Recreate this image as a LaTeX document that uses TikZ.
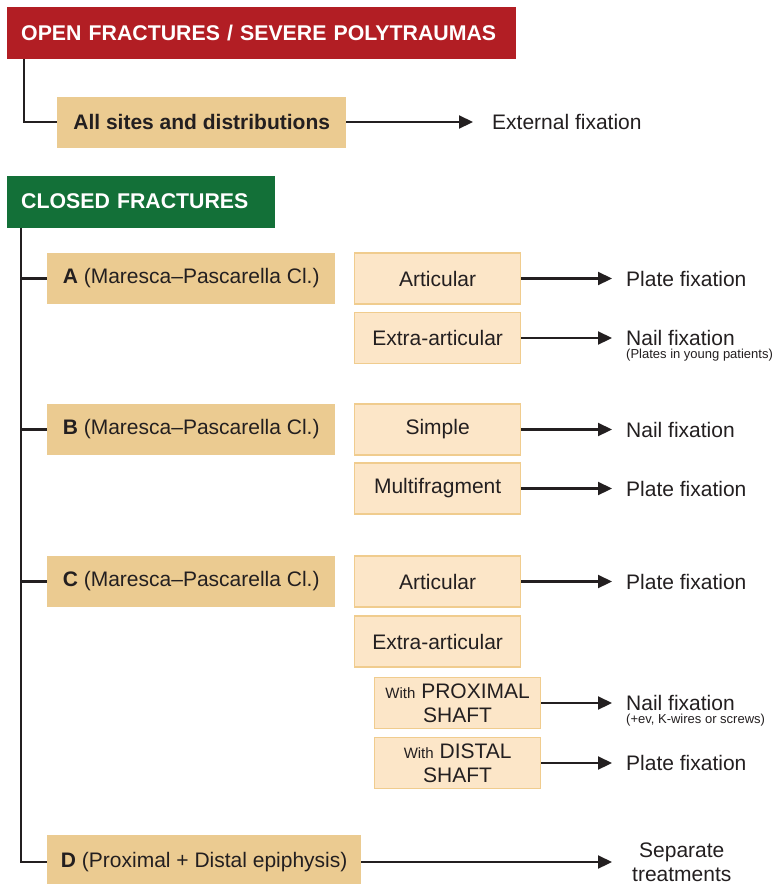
\documentclass[tikz,border=0pt]{standalone}
\usepackage{fontspec}
\setmainfont{Liberation Sans}
\usetikzlibrary{arrows.meta}
\definecolor{hdred}{HTML}{B21E24}
\definecolor{hdgreen}{HTML}{137038}
\definecolor{tanc}{HTML}{EBCB91}
\definecolor{subfill}{HTML}{FCE6C8}
\definecolor{subdraw}{HTML}{F0CC8E}
\definecolor{ink}{HTML}{231F20}
\begin{document}
\begin{tikzpicture}[x=1pt,y=-1pt,
  hdr/.style={text=white, font=\fontsize{21.3}{25}\selectfont\bfseries, anchor=west, inner xsep=14pt, minimum height=52pt, align=left},
  catbox/.style={fill=tanc, text=ink, font=\fontsize{21}{25}\selectfont, minimum height=51pt, anchor=west},
  subbox/.style={fill=subfill, draw=subdraw, line width=1.3pt, minimum width=166pt, minimum height=51pt, text=ink, font=\fontsize{21}{24}\selectfont, anchor=west, align=center, inner sep=1pt},
  res/.style={anchor=west, inner sep=0pt, text=ink, font=\fontsize{21}{25}\selectfont},
  note/.style={anchor=north west, inner sep=0pt, text=ink, font=\fontsize{13}{14}\selectfont},
  arr/.style={draw=ink, line width=2.2pt, -{Triangle[length=14pt,width=13pt]}},
  link/.style={draw=ink, line width=2.2pt}
]
\useasboundingbox (0,0) rectangle (777,884);
\fill[white] (0,0) rectangle (777,884);

% open fractures
\node[hdr, fill=hdred, text width=481pt] (open) at (7,33) {OPEN FRACTURES / SEVERE POLYTRAUMAS};
\node[catbox, minimum width=289pt, font=\fontsize{21}{25}\selectfont\bfseries] (all) at (57,122) {All sites and distributions};
\node[res] (ext) at (492,122) {External fixation};
\draw[link] ([xshift=17pt]open.south west) |- (all.west);
\draw[arr] (all.east) -- ([xshift=-19pt]ext.west);

% closed fractures
\node[hdr, fill=hdgreen, text width=240pt] (closed) at (7,201.5) {CLOSED FRACTURES};
\coordinate (tr) at ([xshift=14pt]closed.south west);

\node[catbox, minimum width=288pt] (A) at (47,278.5) {\textbf{A} (Maresca–Pascarella Cl.)};
\node[catbox, minimum width=288pt] (B) at (47,429.5) {\textbf{B} (Maresca–Pascarella Cl.)};
\node[catbox, minimum width=288pt] (C) at (47,581.5) {\textbf{C} (Maresca–Pascarella Cl.)};
\node[catbox, minimum width=314pt, minimum height=54pt] (D) at (47,862) {\textbf{D} (Proximal + Distal epiphysis)};

\draw[link] (tr) |- (D.west);
\draw[link] (tr |- A.west) -- (A.west);
\draw[link] (tr |- B.west) -- (B.west);
\draw[link] (tr |- C.west) -- (C.west);

% sub boxes
\node[subbox] (aart) at (354,278.5) {Articular};
\node[subbox] (aext) at (354,338) {Extra-articular};
\node[subbox] (bsim) at (354,429.5) {Simple};
\node[subbox] (bmul) at (354,488.5) {Multifragment};
\node[subbox] (cart) at (354,581.5) {Articular};
\node[subbox] (cext) at (354,641.5) {Extra-articular};
\node[subbox] (cprox) at (374,703) {{\fontsize{15}{24}\selectfont With} PROXIMAL\\SHAFT};
\node[subbox] (cdist) at (374,763) {{\fontsize{15}{24}\selectfont With} DISTAL\\SHAFT};

% results
\node[res] (r1) at (626,278.5) {Plate fixation};
\node[res] (r2) at (626,338) {Nail fixation};
\node[note] (n2) at (626,349) {(Plates in young patients)};
\node[res] (r3) at (626,429.5) {Nail fixation};
\node[res] (r4) at (626,488.5) {Plate fixation};
\node[res] (r5) at (626,581.5) {Plate fixation};
\node[res] (r6) at (626,703) {Nail fixation};
\node[note] (n6) at (626,714) {(+ev, K-wires or screws)};
\node[res] (r7) at (626,763) {Plate fixation};
\node[text=ink, font=\fontsize{21}{24}\selectfont, align=center, inner sep=0pt, anchor=west] (r8) at (632,862) {Separate\\treatments};

\draw[arr] (aart.east) -- ([xshift=-14pt]r1.west);
\draw[arr] (aext.east) -- ([xshift=-14pt]r2.west);
\draw[arr] (bsim.east) -- ([xshift=-14pt]r3.west);
\draw[arr] (bmul.east) -- ([xshift=-14pt]r4.west);
\draw[arr] (cart.east) -- ([xshift=-14pt]r5.west);
\draw[arr] (cprox.east) -- ([xshift=-14pt]r6.west);
\draw[arr] (cdist.east) -- ([xshift=-14pt]r7.west);
\draw[arr] (D.east) -- ([xshift=-20pt]r8.west);
\end{tikzpicture}
\end{document}
